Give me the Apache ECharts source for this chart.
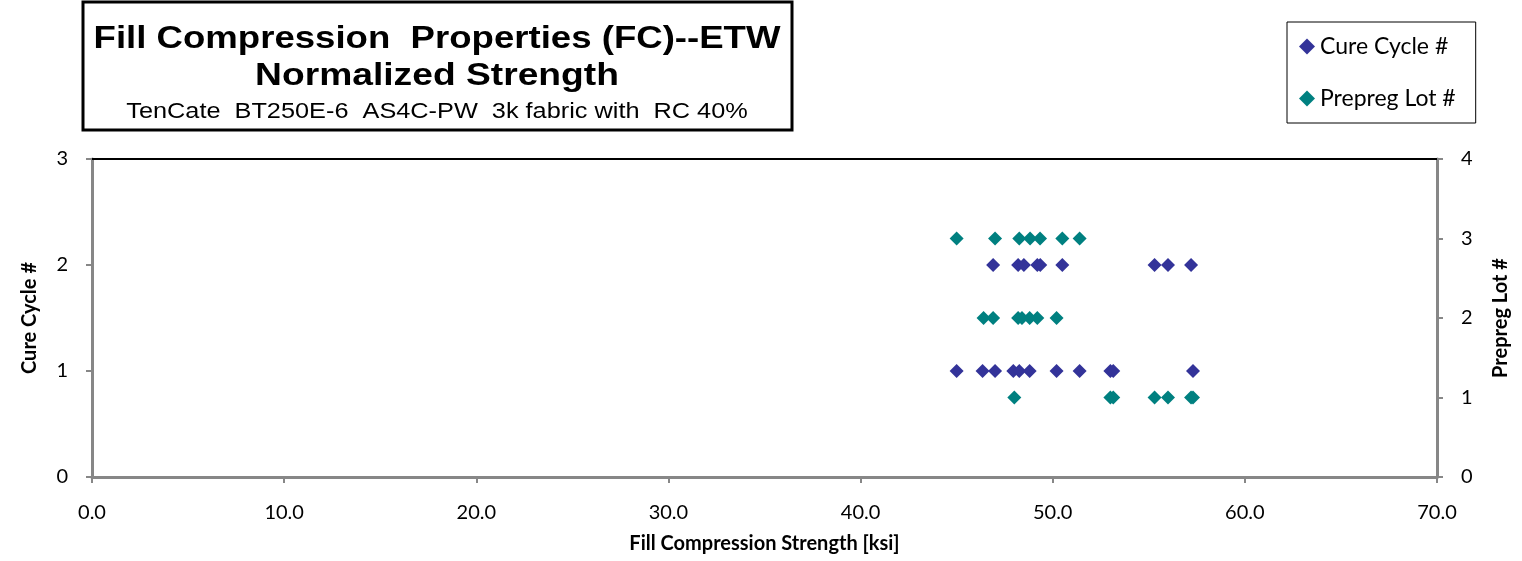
<!DOCTYPE html>
<html>
<head>
<meta charset="utf-8">
<script src="https://cdn.jsdelivr.net/npm/echarts@6/dist/echarts.min.js"></script>
<style>
html, body { margin: 0; padding: 0; background: #fff; }
#chart { width: 1522px; height: 561px; }
</style>
</head>
<body>
<div id="chart"></div>
<script>
// data (strength in ksi)
var cureCycle1 = [45.0, 46.35, 47.0, 47.95, 48.26, 48.8, 50.2, 51.4, 53.0, 53.15, 57.3];
var cureCycle2 = [46.9, 48.2, 48.5, 49.2, 49.35, 50.5, 55.3, 56.0, 57.2];
var prepregLot1 = [48.0, 53.0, 53.15, 55.3, 56.0, 57.2, 57.3];
var prepregLot2 = [46.4, 46.9, 48.2, 48.4, 48.8, 49.2, 50.2];
var prepregLot3 = [45.0, 47.0, 48.26, 48.82, 49.34, 50.5, 51.4];

var xTicks = [0, 10, 20, 30, 40, 50, 60, 70];

function pairs(vals, level) {
	return vals.map(function (v) { return [v, level]; });
}

var chart = echarts.init(document.getElementById('chart'));
var gray = '#878787';
var lblFont = 'Lato, "Open Sans", sans-serif';
var ttlFont = '"Liberation Sans", Arial, sans-serif';

var option = {
	animation: false,
	backgroundColor: '#fff',
	graphic: [
		{
			type: 'rect',
			shape: {x: 83, y: 2, width: 709, height: 128},
			style: {fill: '#fff', stroke: '#000', lineWidth: 3}
		},
		{
			type: 'text', x: 437, y: 39, scaleX: 1.18,
			style: {text: 'Fill Compression  Properties (FC)--ETW', align: 'center', verticalAlign: 'middle',
				font: 'bold 31px ' + ttlFont, fill: '#000'}
		},
		{
			type: 'text', x: 437, y: 76, scaleX: 1.2,
			style: {text: 'Normalized Strength', align: 'center', verticalAlign: 'middle',
				font: 'bold 31px ' + ttlFont, fill: '#000'}
		},
		{
			type: 'text', x: 437, y: 112, scaleX: 1.15,
			style: {text: 'TenCate  BT250E-6  AS4C-PW  3k fabric with  RC 40%', align: 'center', verticalAlign: 'middle',
				font: '22px ' + ttlFont, fill: '#000'}
		}
	],
	legend: {
		orient: 'vertical',
		left: 1287,
		top: 22,
		width: 188,
		padding: [13, 20, 13, 12],
		itemGap: 29,
		itemWidth: 16,
		itemHeight: 16,
		borderColor: '#000',
		borderWidth: 1,
		textStyle: {fontFamily: lblFont, fontSize: 23, color: '#000'},
		data: ['Cure Cycle #', 'Prepreg Lot #']
	},
	grid: {left: 92, right: 85, top: 159, bottom: 84, outerBoundsMode: 'none', containLabel: false},
	xAxis: [
		{
			type: 'value',
			min: 0, max: 70, interval: 10,
			position: 'bottom',
			name: 'Fill Compression Strength [ksi]',
			nameLocation: 'middle',
			nameGap: 57,
			nameTextStyle: {fontFamily: lblFont, fontWeight: 'bold', fontSize: 20, color: '#000'},
			axisLine: {onZero: false, lineStyle: {color: gray, width: 3}},
			axisTick: {show: true, length: 6, lineStyle: {color: gray, width: 2}},
			axisLabel: {margin: 26, fontFamily: lblFont, fontSize: 20, color: '#000',
				formatter: function (v) { return xTicks.indexOf(v) >= 0 ? v.toFixed(1) : ''; }},
			splitLine: {show: false}
		},
		{
			type: 'value',
			min: 0, max: 70,
			position: 'top',
			axisLine: {show: true, onZero: false, lineStyle: {color: '#000', width: 2}},
			axisTick: {show: false},
			axisLabel: {show: false},
			splitLine: {show: false}
		}
	],
	yAxis: [
		{
			type: 'value',
			min: 0, max: 3, interval: 1,
			position: 'left',
			name: 'Cure Cycle #',
			nameLocation: 'middle',
			nameGap: 52,
			nameTextStyle: {fontFamily: lblFont, fontWeight: 'bold', fontSize: 20, color: '#000'},
			axisLine: {show: true, onZero: false, lineStyle: {color: gray, width: 3}},
			axisTick: {show: true, length: 6, lineStyle: {color: gray, width: 2}},
			axisLabel: {margin: 24, fontFamily: lblFont, fontSize: 20, color: '#000'},
			splitLine: {show: false}
		},
		{
			type: 'value',
			min: 0, max: 4, interval: 1,
			position: 'right',
			name: 'Prepreg Lot #',
			nameLocation: 'middle',
			nameGap: 54,
			nameTextStyle: {fontFamily: lblFont, fontWeight: 'bold', fontSize: 20, color: '#000'},
			axisLine: {show: true, onZero: false, lineStyle: {color: gray, width: 3}},
			axisTick: {show: true, length: 6, lineStyle: {color: gray, width: 2}},
			axisLabel: {margin: 24, fontFamily: lblFont, fontSize: 20, color: '#000'},
			splitLine: {show: false}
		}
	],
	series: [
		{
			name: 'Cure Cycle #',
			type: 'scatter',
			yAxisIndex: 0,
			symbol: 'diamond',
			symbolSize: 14,
			itemStyle: {color: '#333399', opacity: 1},
			data: pairs(cureCycle1, 1).concat(pairs(cureCycle2, 2))
		},
		{
			name: 'Prepreg Lot #',
			type: 'scatter',
			yAxisIndex: 1,
			symbol: 'diamond',
			symbolSize: 14,
			itemStyle: {color: '#008080', opacity: 1},
			data: pairs(prepregLot1, 1).concat(pairs(prepregLot2, 2), pairs(prepregLot3, 3))
		}
	]
};
chart.setOption(option);
</script>
</body>
</html>
